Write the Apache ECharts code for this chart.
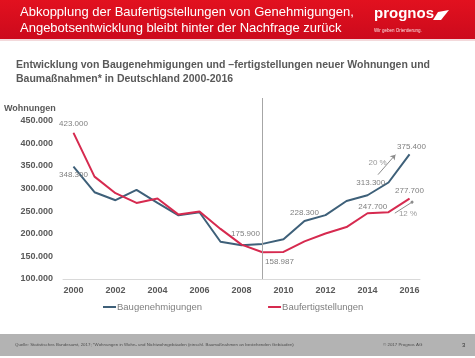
<!DOCTYPE html>
<html><head><meta charset="utf-8">
<script src="https://cdn.jsdelivr.net/npm/echarts@6/dist/echarts.min.js"></script>
<style>html,body{margin:0;padding:0;background:#fff}#c{width:475px;height:358px}</style>
</head><body><div id="c"></div>
<script>
const years = ['2000','2001','2002','2003','2004','2005','2006','2007','2008','2009','2010','2011','2012','2013','2014','2015','2016'];
const baugenehmigungen = [348300, 291800, 274100, 296800, 268100, 240600, 247500, 182300, 174600, 177600, 187700, 228300, 241100, 272400, 285100, 313300, 375400];
const baufertigstellungen = [423000, 326200, 289600, 268100, 278000, 242300, 249400, 210700, 175900, 158987, 159800, 183100, 200500, 214800, 245300, 247700, 277700];
const yMin = 100000, yMax = 500000, yStep = 50000;
const growthLabels = ['20 %', '12 %'];
const growthArrowBlue = [[2014.5, 330600], [2015.33, 374800]];
const growthArrowRed = [[2015.3, 245500], [2016.12, 269800]];
const growthTextBlue = [2014.48, 357000];
const growthTextRed = [2015.93, 243000];
const markYear = '2009';

const fmt = v => String(Math.round(v)).replace(/\B(?=(\d{3})+(?!\d))/g, '.');
const F = 'Liberation Sans, Arial, sans-serif';
const lblBase = { show: true, fontSize: 8, color: '#7f7f7f', fontFamily: F, formatter: p => fmt(p.value) };
const blueLabels = { 0: { position: 'bottom', distance: 4 }, 11: { position: 'top', distance: 4 }, 15: { position: 'left', distance: 3 }, 16: { position: 'top', distance: 3, offset: [2, 0] } };
const redLabels = { 0: { position: 'top', distance: 5 }, 8: { position: 'top', distance: 7, offset: [4, 0] }, 9: { position: 'bottom', distance: 5, offset: [17, 0] }, 15: { position: 'left', distance: 1, offset: [0, -5] }, 16: { position: 'top', distance: 4 } };
function build(vals, cfg) {
  return vals.map((v, i) => cfg[i] ? { value: v, label: Object.assign({}, lblBase, cfg[i]) } : { value: v, label: { show: false } });
}
const firstYear = +years[0], lastYear = +years[years.length - 1];

const chart = echarts.init(document.getElementById('c'), null, { renderer: 'canvas' });
chart.setOption({
  animation: false,
  backgroundColor: '#fff',
  textStyle: { fontFamily: F },
  grid: { left: 63, right: 55, top: 98, bottom: 79 },
  legend: {
    data: ['Baugenehmigungen', 'Baufertigstellungen'], left: 103, top: 302, padding: 0, itemWidth: 13, itemHeight: 2, icon: 'rect', itemGap: 66,
    textStyle: { fontSize: 9.5, color: '#7f7f7f', fontFamily: F, padding: [0, 0, 0, -4] }
  },
  xAxis: [{
    type: 'category', data: years, boundaryGap: true,
    axisLine: { lineStyle: { color: '#d9d9d9', width: 1 } }, axisTick: { show: false },
    axisLabel: { interval: 1, fontSize: 9, fontWeight: 'bold', color: '#595959', margin: 7, fontFamily: F }
  }, {
    type: 'value', min: firstYear - 0.5, max: lastYear + 0.5, show: false, position: 'bottom'
  }],
  yAxis: {
    type: 'value', min: yMin, max: yMax, interval: yStep,
    axisLine: { show: false }, axisTick: { show: false }, splitLine: { show: false },
    axisLabel: { fontSize: 9, fontWeight: 'bold', color: '#595959', margin: 10, fontFamily: F, formatter: v => v === yMax ? '' : fmt(v) }
  },
  series: [
    {
      name: 'Baugenehmigungen', type: 'line', data: build(baugenehmigungen, blueLabels), symbol: 'circle', symbolSize: 0.5, showSymbol: true,
      lineStyle: { color: '#3e6079', width: 2 }, itemStyle: { color: '#3e6079' },
      markLine: {
        silent: true, animation: false, symbol: 'none',
        data: [[{ xAxis: markYear, yAxis: yMax }, { xAxis: markYear, yAxis: yMin }]],
        lineStyle: { color: '#a6a6a6', width: 1, type: 'solid' }, label: { show: false }
      }
    },
    {
      name: 'Baufertigstellungen', type: 'line', data: build(baufertigstellungen, redLabels), symbol: 'circle', symbolSize: 0.5, showSymbol: true,
      lineStyle: { color: '#d62a4f', width: 2 }, itemStyle: { color: '#d62a4f' }
    },
    {
      name: 'growthArrows', type: 'lines', coordinateSystem: 'cartesian2d', xAxisIndex: 1, silent: true,
      symbol: ['none', 'arrow'], symbolSize: 5,
      lineStyle: { color: '#8c8c8c', width: 1, opacity: 1, curveness: 0 },
      data: [
        { coords: growthArrowBlue },
        { coords: growthArrowRed, symbol: ['none', 'circle'], symbolSize: 3 }
      ]
    },
    {
      name: 'growthText', type: 'scatter', xAxisIndex: 1, symbolSize: 0, silent: true,
      data: [{ value: growthTextBlue, name: growthLabels[0] }, { value: growthTextRed, name: growthLabels[1] }],
      label: { show: true, position: 'inside', fontSize: 8, color: '#7f7f7f', fontFamily: F, formatter: p => p.name }
    }
  ],
  graphic: [
    { type: 'rect', shape: { x: 0, y: 0, width: 475, height: 39 }, style: { fill: new echarts.graphic.LinearGradient(0, 0, 0, 1, [{ offset: 0, color: '#e2111f' }, { offset: 1, color: '#cc0a1c' }]) } },
    { type: 'rect', shape: { x: 0, y: 39, width: 475, height: 2 }, style: { fill: '#f3d9db' } },
    { type: 'text', left: 20, top: 6, style: { text: 'Abkopplung der Baufertigstellungen von Genehmigungen,', fill: '#fff', font: '13px ' + F } },
    { type: 'text', left: 20, top: 22, style: { text: 'Angebotsentwicklung bleibt hinter der Nachfrage zurück', fill: '#fff', font: '13px ' + F } },
    { type: 'text', left: 374, top: 6, style: { text: 'prognos', fill: '#fff', font: 'bold 15px ' + F } },
    { type: 'polygon', shape: { points: [[433, 20], [438, 12], [449, 10], [441, 20]] }, style: { fill: '#fff' } },
    { type: 'text', left: 374, top: 28, style: { text: 'Wir geben Orientierung.', fill: '#fbe0e2', font: '4.5px ' + F } },
    { type: 'text', left: 16, top: 60, style: { text: 'Entwicklung von Baugenehmigungen und –fertigstellungen neuer Wohnungen und', fill: '#595959', font: 'bold 10.5px ' + F } },
    { type: 'text', left: 16, top: 74, style: { text: 'Baumaßnahmen* in Deutschland 2000-2016', fill: '#595959', font: 'bold 10.5px ' + F } },
    { type: 'text', left: 4, top: 104, style: { text: 'Wohnungen', fill: '#595959', font: 'bold 9px ' + F } },
    { type: 'rect', shape: { x: 0, y: 334, width: 475, height: 22 }, style: { fill: '#b3b3b3' } },
    { type: 'text', left: 15, top: 343, style: { text: 'Quelle: Statistisches Bundesamt, 2017; *Wohnungen in Wohn- und Nichtwohngebäuden (einschl. Baumaßnahmen an bestehenden Gebäuden)', fill: '#4d4d4d', font: '4.4px ' + F } },
    { type: 'text', left: 383, top: 343, style: { text: '© 2017 Prognos AG', fill: '#4d4d4d', font: '4.4px ' + F } },
    { type: 'text', left: 462, top: 342, style: { text: '3', fill: '#333', font: '6px ' + F } }
  ]
});
</script></body></html>
